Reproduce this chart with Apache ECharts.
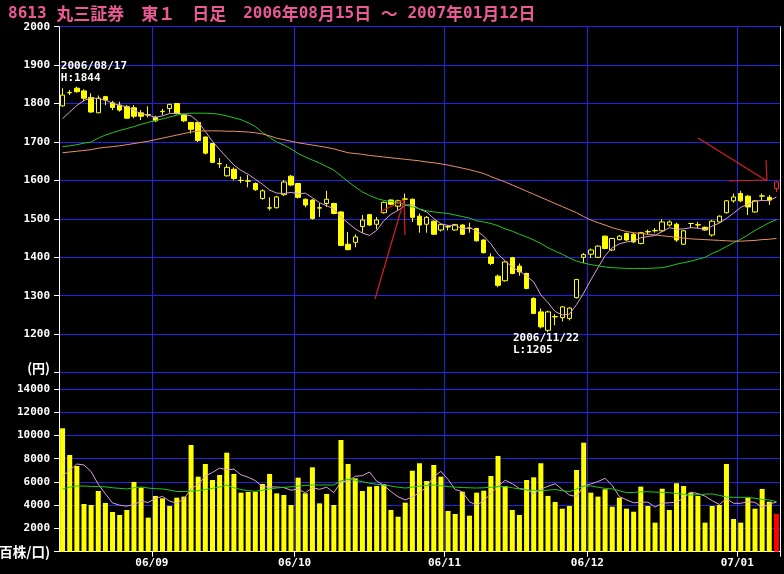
<!DOCTYPE html>
<html><head><meta charset="utf-8">
<script src="https://cdn.jsdelivr.net/npm/echarts@6/dist/echarts.min.js"></script>
<style>html,body{margin:0;padding:0;background:#000}#c{width:784px;height:574px}</style>
</head><body><div id="c"></div><script>
const dates = [
'2006/08/15','2006/08/16','2006/08/17','2006/08/18','2006/08/21','2006/08/22','2006/08/23','2006/08/24','2006/08/25','2006/08/28','2006/08/29','2006/08/30','2006/08/31',
'2006/09/01','2006/09/04','2006/09/05','2006/09/06','2006/09/07','2006/09/08','2006/09/11','2006/09/12','2006/09/13','2006/09/14','2006/09/15','2006/09/19','2006/09/20','2006/09/21','2006/09/22','2006/09/25','2006/09/26','2006/09/27','2006/09/28','2006/09/29',
'2006/10/02','2006/10/03','2006/10/04','2006/10/05','2006/10/06','2006/10/10','2006/10/11','2006/10/12','2006/10/13','2006/10/16','2006/10/17','2006/10/18','2006/10/19','2006/10/20','2006/10/23','2006/10/24','2006/10/25','2006/10/26','2006/10/27','2006/10/30','2006/10/31',
'2006/11/01','2006/11/02','2006/11/06','2006/11/07','2006/11/08','2006/11/09','2006/11/10','2006/11/13','2006/11/14','2006/11/15','2006/11/16','2006/11/17','2006/11/20','2006/11/21','2006/11/22','2006/11/24','2006/11/27','2006/11/28','2006/11/29','2006/11/30',
'2006/12/01','2006/12/04','2006/12/05','2006/12/06','2006/12/07','2006/12/08','2006/12/11','2006/12/12','2006/12/13','2006/12/14','2006/12/15','2006/12/18','2006/12/19','2006/12/20','2006/12/21','2006/12/22','2006/12/25','2006/12/26','2006/12/27','2006/12/28','2006/12/29',
'2007/01/04','2007/01/05','2007/01/09','2007/01/10','2007/01/11','2007/01/12'];
const monthTickDates = ['2006/09/01','2006/10/02','2006/11/01','2006/12/01','2007/01/04'];
const monthTickLabels = ['06/09','06/10','06/11','06/12','07/01'];

const open = [1794,1828,1840,1833,1816,1776,1818,1802,1796,1792, 1789,1776,1771,1764,1779,1787,1800,1770,1751,1751, 1713,1696,1644,1612,1629,1600,1599,1592,1553,1528, 1529,1563,1611,1592,1551,1549,1529,1540,1540,1518, 1434,1439,1480,1511,1486,1516,1549,1533,1551,1551, 1507,1486,1494,1471,1479,1471,1484,1475,1475,1445, 1401,1351,1339,1399,1377,1358,1293,1258,1210,1245, 1243,1241,1295,1400,1408,1400,1455,1419,1446,1462, 1460,1436,1466,1469,1469,1484,1486,1434,1488,1484, 1478,1458,1492,1516,1547,1566,1559,1518,1559,1556, 1579];
const close = [1822,1829,1831,1814,1778,1814,1809,1790,1783,1762, 1767,1767,1770,1755,1780,1798,1774,1755,1733,1704, 1671,1647,1643,1634,1605,1600,1598,1576,1573,1529, 1557,1596,1588,1556,1536,1501,1528,1551,1514,1431, 1420,1453,1497,1484,1497,1543,1538,1547,1552,1504, 1484,1504,1460,1485,1480,1485,1460,1476,1443,1412, 1384,1327,1388,1358,1362,1319,1254,1219,1258,1246, 1271,1268,1342,1407,1419,1429,1423,1449,1455,1445, 1440,1464,1467,1470,1492,1492,1445,1469,1488,1485, 1471,1494,1507,1547,1557,1547,1531,1547,1560,1549, 1596];
const low = [1792,1822,1828,1806,1776,1775,1796,1783,1779,1760, 1762,1757,1764,1752,1770,1776,1772,1752,1722,1700, 1668,1645,1632,1610,1600,1593,1582,1573,1550,1522, 1527,1560,1585,1553,1530,1498,1505,1531,1512,1429, 1418,1426,1464,1482,1473,1514,1536,1523,1536,1492, 1464,1464,1458,1467,1470,1469,1458,1464,1441,1410, 1380,1322,1337,1356,1352,1317,1252,1215,1205,1223, 1233,1236,1293,1385,1398,1398,1421,1417,1444,1443, 1437,1434,1458,1464,1466,1480,1440,1432,1476,1475, 1469,1454,1490,1514,1542,1543,1510,1516,1549,1536, 1570];
const high = [1840,1835,1844,1837,1827,1821,1820,1807,1805,1796, 1796,1783,1793,1768,1786,1799,1801,1773,1752,1752, 1714,1697,1658,1642,1634,1610,1614,1595,1577,1556, 1560,1601,1614,1594,1553,1551,1541,1573,1542,1520, 1466,1460,1510,1513,1505,1545,1551,1550,1566,1553, 1514,1507,1496,1488,1484,1487,1486,1490,1477,1447, 1410,1355,1390,1401,1384,1360,1296,1267,1261,1252, 1273,1270,1344,1411,1423,1431,1457,1451,1458,1464, 1463,1466,1472,1476,1499,1496,1490,1471,1488,1492, 1480,1497,1509,1549,1566,1573,1562,1549,1566,1562, 1597];
const ma5 = [1761,1778,1795,1808,1815,1813,1809,1801,1795,1792, 1782,1774,1770,1764,1768,1774,1775,1772,1768,1753, 1727,1702,1680,1660,1640,1626,1616,1603,1590,1575, 1567,1566,1569,1565,1567,1555,1542,1534,1526,1505, 1489,1474,1463,1457,1470,1495,1512,1522,1535,1537, 1525,1518,1501,1487,1483,1483,1474,1477,1469,1455, 1435,1408,1391,1374,1364,1351,1336,1302,1282,1259, 1250,1252,1277,1307,1341,1373,1404,1425,1435,1440, 1442,1451,1454,1457,1467,1477,1473,1474,1477,1476, 1472,1481,1489,1501,1515,1530,1538,1546,1548,1547, 1557];
const ma25 = [1688,1690,1693,1697,1700,1710,1718,1724,1730,1735, 1740,1746,1751,1756,1760,1765,1770,1773,1775,1775, 1775,1774,1772,1768,1763,1758,1750,1740,1725,1712, 1700,1692,1682,1670,1661,1653,1645,1636,1627,1612, 1597,1583,1570,1561,1553,1548,1545,1542,1537,1531, 1526,1521,1518,1516,1514,1510,1506,1502,1495,1492, 1488,1482,1474,1468,1460,1453,1445,1436,1425,1416, 1408,1398,1390,1385,1381,1378,1375,1373,1372,1371, 1371,1371,1371,1372,1373,1377,1382,1386,1390,1395, 1400,1410,1418,1428,1438,1447,1458,1470,1480,1490, 1498];
const ma75 = [1672,1674,1676,1678,1680,1684,1686,1688,1690,1693, 1696,1699,1702,1706,1710,1714,1718,1722,1726,1728, 1729,1729,1729,1728,1728,1727,1726,1724,1721,1716, 1710,1706,1702,1698,1695,1692,1689,1686,1682,1677, 1672,1670,1668,1665,1663,1661,1659,1657,1655,1653, 1651,1648,1646,1643,1640,1636,1632,1628,1623,1618, 1610,1603,1596,1588,1580,1572,1564,1556,1548,1540, 1532,1524,1516,1506,1497,1490,1484,1477,1472,1467, 1464,1462,1460,1458,1456,1454,1452,1450,1448,1447, 1446,1445,1444,1443,1442,1442,1443,1444,1446,1447, 1449];
const volume = [10620,8320,7375,4105,4020,5225,4190,3417,3160,3590, 6000,5510,2930,4800,4590,3935,4650,4740,9180,6455, 7550,6170,6600,8520,6690,5080,5140,5160,5830,6690, 5020,4880,4020,6370,5020,7260,4160,4970,4020,9610, 7550,6310,5225,5600,5650,5800,3590,3010,4220,6970, 7610,6085,7460,6455,3500,3245,5160,3100,5080,5250, 6515,8240,5650,3590,3160,6170,6400,7610,4800,4280, 3700,3935,7030,9380,5080,4740,5370,3875,4650,3700, 3440,5600,3935,2500,5420,3590,5890,5650,5080,4800, 2500,3935,4020,7550,2815,2500,4650,3700,5400,4300, 3245];
const volMa5 = [6515,7000,7550,7460,6888,5809,4983,4191,4002,3916, 4071,4335,4238,4566,4766,4353,4181,4543,5419,5792, 6515,6819,7191,7059,7106,6612,6406,6118,5580,5580, 5568,5516,5288,5396,5062,5510,5366,5556,5086,6004, 6062,6492,6543,6859,6067,5717,5173,4730,4454,4718, 5080,5579,6469,6916,6222,5349,5164,4292,4017,4367, 5021,5637,6147,5849,5431,5362,4994,5386,5628,5852, 5358,4865,4749,5665,5825,6033,6320,5689,4743,4467, 4207,4253,4265,3835,4179,4209,4267,4610,5126,5002, 4784,4393,4067,4561,4164,4164,4307,4243,3813,4110, 4260];
const volMa25 = [5400,5550,5650,5650,5620,5600,5580,5500,5450,5400, 5500,5570,5480,5420,5400,5300,5180,5180,5220,5250, 5350,5450,5570,5740,5500,5350,5250,5200,5300,5400, 5480,5540,5580,5650,5700,5740,5740,5740,5740,6100, 6230,6150,6025,5900,5800,5740,5650,5550,5480,5550, 5650,5700,5740,5680,5600,5560,5520,5500,5480,5500, 5550,5600,5600,5500,5400,5300,5280,5250,5300,5350, 5250,5160,5400,5650,5650,5550,5450,5400,5250,5080, 5100,5150,5160,5130,5100,5080,5000,4950,4880,4920, 4950,4970,4850,4700,4680,4680,4680,4600,4500,4450, 4300];

const gridBlue = '#2222e6';
const axisFont = {color:'#fff', fontFamily:'DejaVu Sans Mono', fontWeight:'bold', fontSize:11};
const tickIdx = new Set(monthTickDates.map(d => dates.indexOf(d)));
const lastIdx = dates.length - 1;

const candleData = dates.map((d,i) => {
  const v = [open[i], close[i], low[i], high[i]];
  if (i === lastIdx) return {value: v, itemStyle: {color:'#000', borderColor:'#ff2020', color0:'#ff2020', borderColor0:'#ff2020'}};
  return v;
});
const volData = volume.map((v,i) => i === lastIdx ? {value: v, itemStyle: {color:'#ff0000'}} : v);

const chart = echarts.init(document.getElementById('c'), null, {renderer:'canvas'});
const mkX = (gi, showLabels) => ({
  type:'category', gridIndex: gi, data: dates, boundaryGap: true,
  axisLine: {show: showLabels, onZero: false, lineStyle: {color:'#fff', width:1}},
  axisTick: {show: showLabels, interval: (i) => tickIdx.has(i), length: 5, lineStyle: {color:'#fff'}},
  axisLabel: {show: showLabels, interval: (i) => tickIdx.has(i), margin: 6, padding: [0,7,0,0],
    formatter: (v) => { const k = monthTickDates.indexOf(v); return k >= 0 ? monthTickLabels[k] : ''; },
    ...axisFont},
  splitLine: {show: true, interval: (i) => tickIdx.has(i), lineStyle: {color: gridBlue, width: 1}}
});

chart.setOption({
  animation: false,
  backgroundColor: '#000',
  title: {
    left: 3, top: 0,
    text: '{a|8613 }{b|丸三証券　東１　日足　}{a|2006}{b|年}{a|08}{b|月}{a|15}{b|日}{a| }{b|～}{a| 2007}{b|年}{a|01}{b|月}{a|12}{b|日}',
    textStyle: {
      rich: {
        a: {fontFamily:'DejaVu Sans Mono', fontSize:16, color:'#eb5a96'},
        b: {fontFamily:'Noto Sans CJK JP', fontSize:17, color:'#eb5a96'}
      }
    }
  },
  grid: [
    {left: 59, right: 4, top: 26.7, height: 345.9, outerBoundsMode: 'none', containLabel: false},
    {left: 59, right: 4, top: 372.6, height: 179.1, outerBoundsMode: 'none', containLabel: false}
  ],
  xAxis: [mkX(0, false), mkX(1, true)],
  yAxis: [
    {type:'value', gridIndex:0, min:1100, max:2000, interval:100,
      axisLine:{show:true, lineStyle:{color:'#fff'}},
      axisTick:{show:true, length:5, lineStyle:{color:'#fff'}},
      axisLabel:{margin:9, ...axisFont,
        formatter: (v) => v === 1100 ? '{u|(円)}' : String(v),
        rich: {u: {fontFamily:'Noto Sans CJK JP', fontWeight:'bold', fontSize:13, color:'#fff', padding:[0,0,9,0]}}},
      splitLine:{show:true, lineStyle:{color:gridBlue, width:1}}},
    {type:'value', gridIndex:1, min:0, max:15412, interval:2000,
      axisLine:{show:true, lineStyle:{color:'#fff'}},
      axisTick:{show:true, length:5, lineStyle:{color:'#fff'}},
      axisLabel:{margin:9, ...axisFont, showMaxLabel: false,
        formatter: (v) => v === 0 ? '{u|(百株/口)}' : (v % 2000 === 0 ? String(v) : ''),
        rich: {u: {fontFamily:'Noto Sans CJK JP', fontWeight:'bold', fontSize:13.5, color:'#fff'}}},
      splitLine:{show:true, lineStyle:{color:gridBlue, width:1}}},
    {type:'value', gridIndex:0, position:'right', min:0, max:1,
      axisLine:{show:true, lineStyle:{color:'#fff'}}, axisTick:{show:false}, axisLabel:{show:false}, splitLine:{show:false}},
    {type:'value', gridIndex:1, position:'right', min:0, max:1,
      axisLine:{show:true, lineStyle:{color:'#fff'}}, axisTick:{show:false}, axisLabel:{show:false}, splitLine:{show:false}}
  ],
  series: [
    {type:'candlestick', xAxisIndex:0, yAxisIndex:0, data: candleData, barWidth: 5,
      itemStyle:{color:'#000', color0:'#ffff00', borderColor:'#ffff00', borderColor0:'#ffff00', borderWidth:1},
      markPoint: {
        symbol:'rect', symbolSize:1, itemStyle:{color:'rgba(0,0,0,0)'},
        label:{show:true, position:'inside', align:'left', verticalAlign:'middle', lineHeight:12,
          color:'#fff', fontFamily:'DejaVu Sans Mono', fontWeight:'bold', fontSize:11},
        data: [
          {coord:[dates[2], high[2]], label:{formatter: dates[2] + '\nH:' + high[2], offset:[-16,-15]}},
          {coord:[dates[68], low[68]], label:{formatter: dates[68] + '\nL:' + low[68], offset:[-35,12]}}
        ]
      }},
    {type:'line', xAxisIndex:0, yAxisIndex:0, data: ma5, showSymbol:false, lineStyle:{color:'#d8a0dc', width:1}},
    {type:'line', xAxisIndex:0, yAxisIndex:0, data: ma25, showSymbol:false, lineStyle:{color:'#20c820', width:1}},
    {type:'line', xAxisIndex:0, yAxisIndex:0, data: ma75, showSymbol:false, lineStyle:{color:'#e8906c', width:1}},
    {type:'bar', xAxisIndex:1, yAxisIndex:1, data: volData, barWidth:5, itemStyle:{color:'#ffff00'}},
    {type:'line', xAxisIndex:1, yAxisIndex:1, data: volMa5, showSymbol:false, lineStyle:{color:'#d8a0dc', width:1}},
    {type:'line', xAxisIndex:1, yAxisIndex:1, data: volMa25, showSymbol:false, lineStyle:{color:'#20c820', width:1}}
  ],
  graphic: [
    {type:'polyline', shape:{points:[[375,299],[404,200]]}, style:{stroke:'#d42020', lineWidth:1.2}, z:100},
    {type:'polyline', shape:{points:[[404,200],[405,235]]}, style:{stroke:'#d42020', lineWidth:1.2}, z:100},
    {type:'polyline', shape:{points:[[380,212],[404,200]]}, style:{stroke:'#d42020', lineWidth:1.2}, z:100},
    {type:'polyline', shape:{points:[[698,138],[767,181]]}, style:{stroke:'#d42020', lineWidth:1.2}, z:100},
    {type:'polyline', shape:{points:[[729,181],[767,180]]}, style:{stroke:'#d42020', lineWidth:1.2}, z:100},
    {type:'polyline', shape:{points:[[766,160],[767,180]]}, style:{stroke:'#d42020', lineWidth:1.2}, z:100}
  ]
});
</script></body></html>
